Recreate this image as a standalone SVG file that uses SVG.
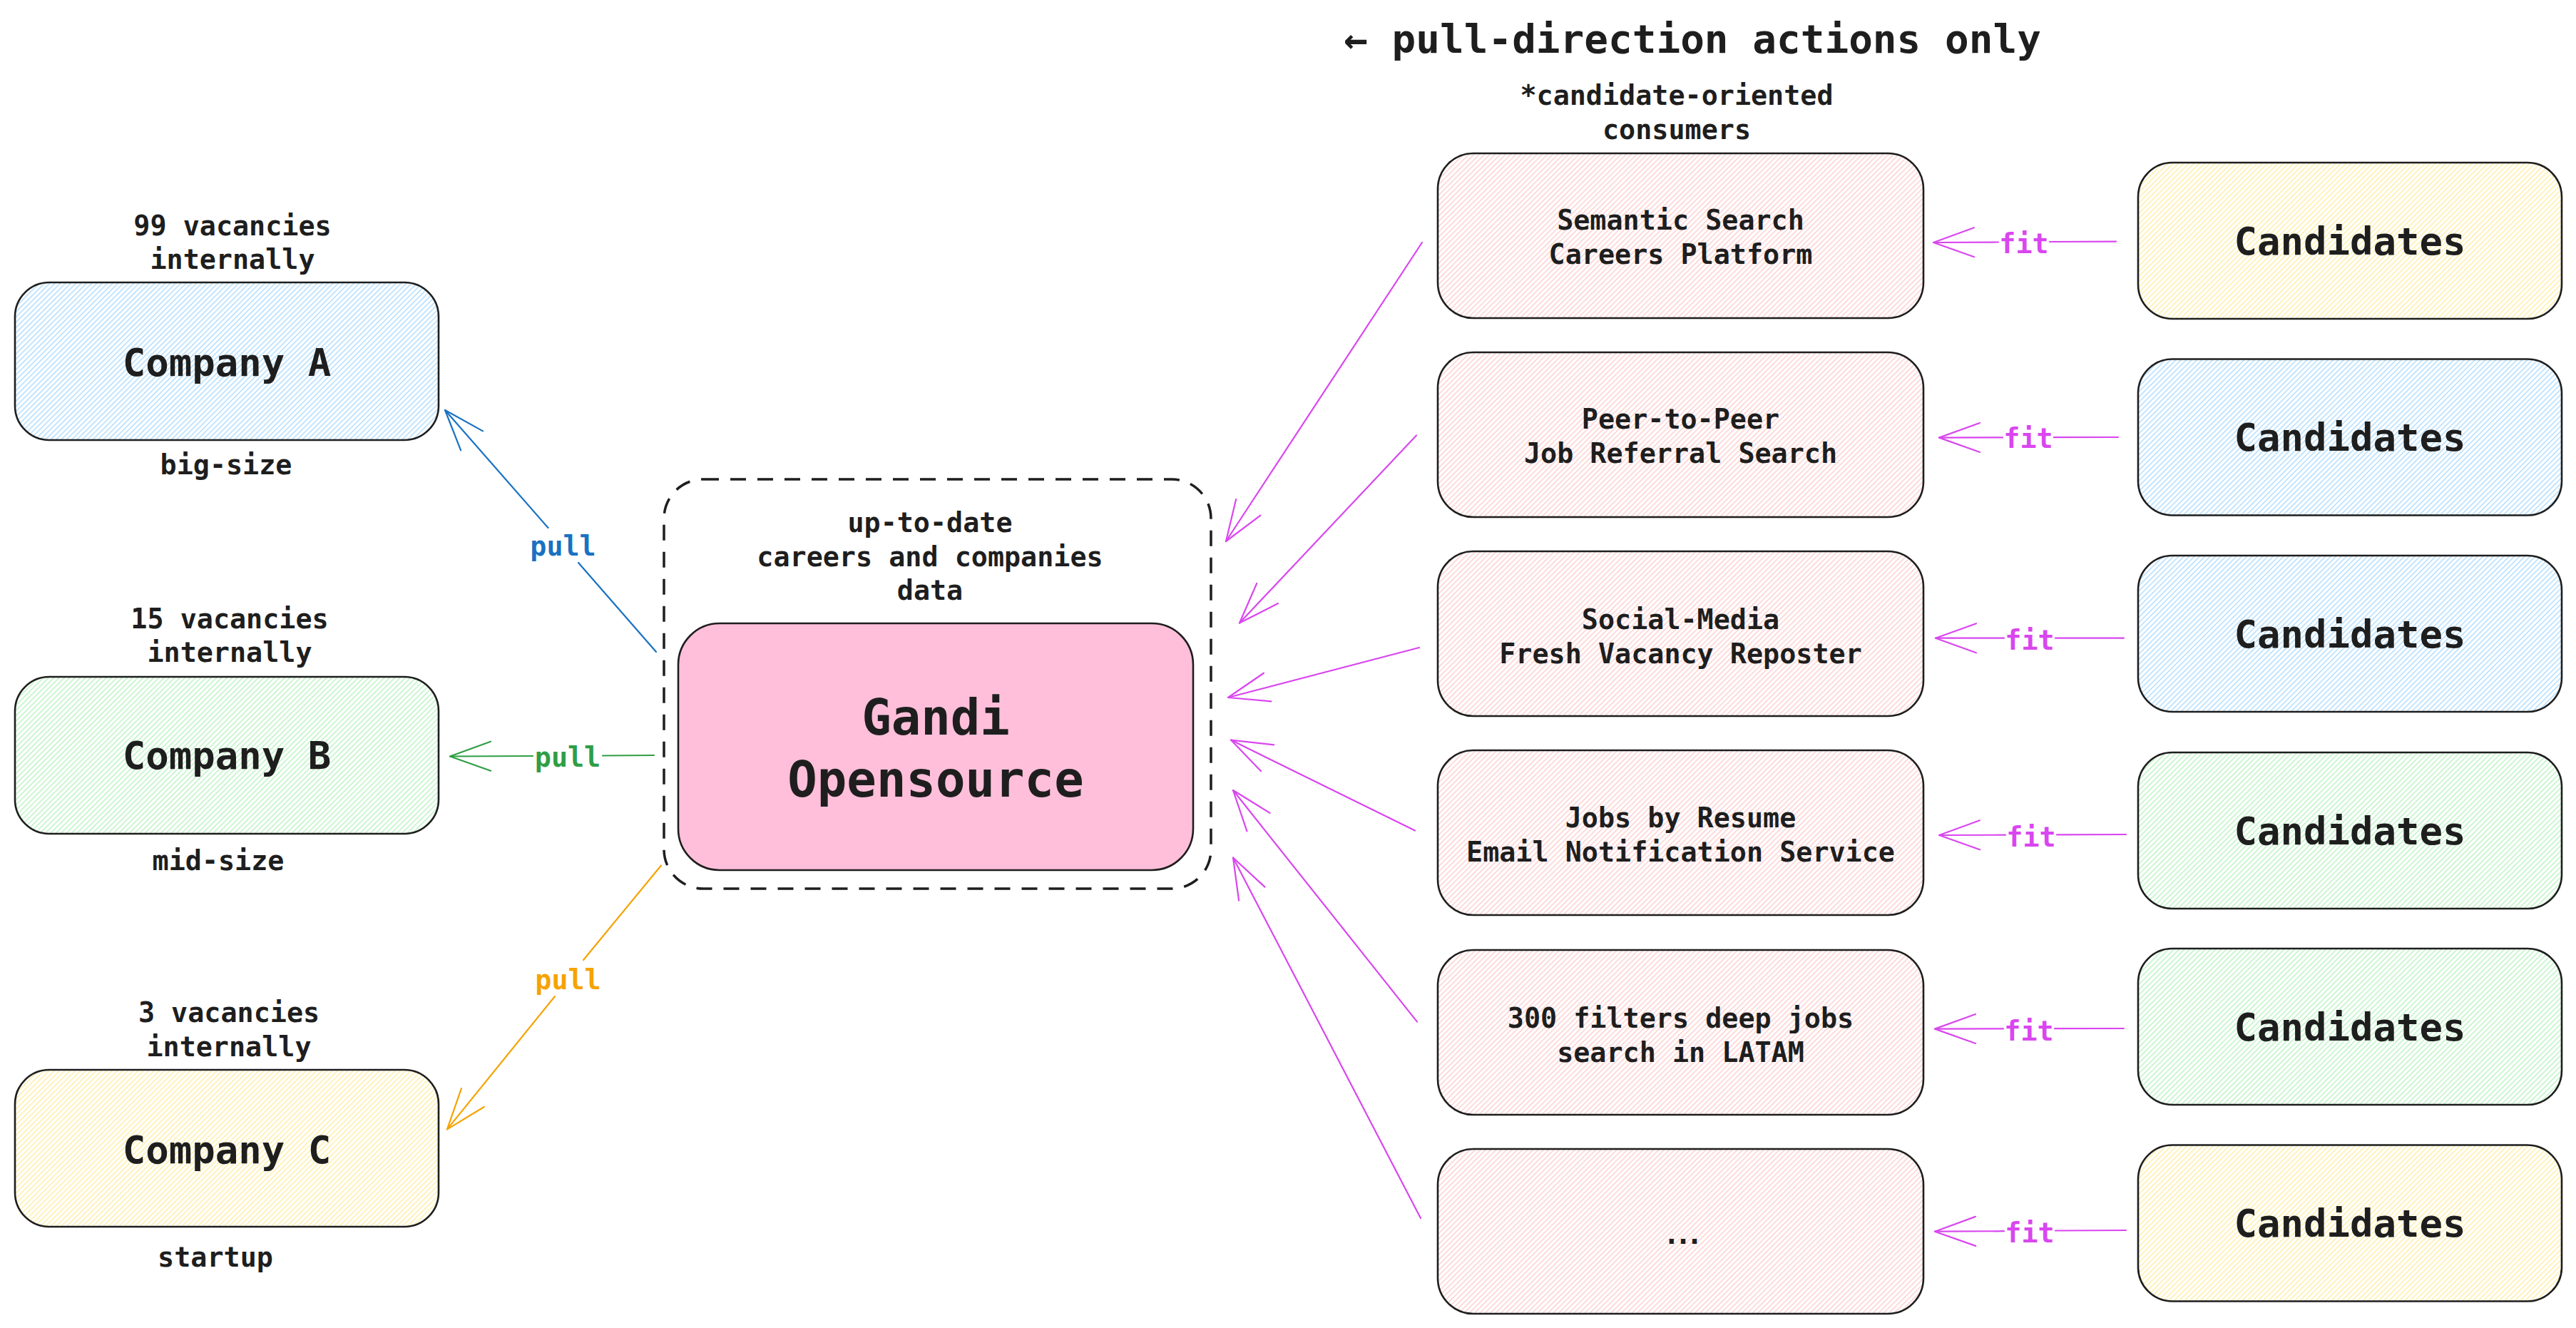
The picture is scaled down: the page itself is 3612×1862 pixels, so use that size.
<svg xmlns="http://www.w3.org/2000/svg" width="3612" height="1862" viewBox="0 0 3612 1862">
<style>
.t{font-family:"DejaVu Sans Mono","Liberation Mono",monospace;fill:#1e1e1e;text-anchor:middle;font-weight:bold}
.s{font-size:38.4px}
.m{font-size:54px}
.l{font-size:69px}
.box{stroke:#1e1e1e;stroke-width:2.6}
.c{fill:none;stroke-width:2.2;stroke-linecap:round}
.blue{stroke:#1971c2}
.green{stroke:#2f9e44}
.orange{stroke:#f5a300}
.mag{stroke:#d946ef}
.lb{font-family:"DejaVu Sans Mono","Liberation Mono",monospace;font-size:38.4px;text-anchor:middle;font-weight:bold}
</style>
<defs>
<pattern id="hBlue" patternUnits="userSpaceOnUse" width="10" height="5.2" patternTransform="rotate(-45)"><line x1="0" y1="2.6" x2="10" y2="2.6" stroke="#a5d8ff" stroke-width="1.3"/></pattern>
<pattern id="hGreen" patternUnits="userSpaceOnUse" width="10" height="5.2" patternTransform="rotate(-45)"><line x1="0" y1="2.6" x2="10" y2="2.6" stroke="#b2f2bb" stroke-width="1.3"/></pattern>
<pattern id="hYellow" patternUnits="userSpaceOnUse" width="10" height="5.2" patternTransform="rotate(-45)"><line x1="0" y1="2.6" x2="10" y2="2.6" stroke="#ffec99" stroke-width="1.3"/></pattern>
<pattern id="hPink" patternUnits="userSpaceOnUse" width="10" height="5.2" patternTransform="rotate(-45)"><line x1="0" y1="2.6" x2="10" y2="2.6" stroke="#ffc9c9" stroke-width="1.3"/></pattern>
<marker id="aBlue" markerUnits="userSpaceOnUse" viewBox="-70 -30 80 60" markerWidth="80" markerHeight="60" refX="0" refY="0" orient="auto" overflow="visible"><path d="M -57 -20.5 L 0 0 L -57 20.5" fill="none" stroke="#1971c2" stroke-width="2.2" stroke-linecap="round" stroke-linejoin="round"/></marker>
<marker id="aGreen" markerUnits="userSpaceOnUse" viewBox="-70 -30 80 60" markerWidth="80" markerHeight="60" refX="0" refY="0" orient="auto" overflow="visible"><path d="M -57 -20.5 L 0 0 L -57 20.5" fill="none" stroke="#2f9e44" stroke-width="2.2" stroke-linecap="round" stroke-linejoin="round"/></marker>
<marker id="aOrange" markerUnits="userSpaceOnUse" viewBox="-70 -30 80 60" markerWidth="80" markerHeight="60" refX="0" refY="0" orient="auto" overflow="visible"><path d="M -57 -20.5 L 0 0 L -57 20.5" fill="none" stroke="#f5a300" stroke-width="2.2" stroke-linecap="round" stroke-linejoin="round"/></marker>
<marker id="aMag" markerUnits="userSpaceOnUse" viewBox="-70 -30 80 60" markerWidth="80" markerHeight="60" refX="0" refY="0" orient="auto" overflow="visible"><path d="M -57 -20.5 L 0 0 L -57 20.5" fill="none" stroke="#d946ef" stroke-width="2.2" stroke-linecap="round" stroke-linejoin="round"/></marker>
</defs>
<rect width="3612" height="1862" fill="#ffffff"/>

<g id="title">
<text class="t" x="2373" y="74" style="font-size:56px">← pull-direction actions only</text>
</g>

<g id="company-a">
<text class="t s" x="326" y="330">99 vacancies</text>
<text class="t s" x="326" y="377">internally</text>
<rect class="box" x="21" y="396" width="594" height="221" rx="48" fill="url(#hBlue)"/>
<text class="t m" x="318" y="527">Company A</text>
<text class="t s" x="317" y="665">big-size</text>
</g>
<g id="company-b">
<text class="t s" x="322" y="881">15 vacancies</text>
<text class="t s" x="322" y="928">internally</text>
<rect class="box" x="21" y="949" width="594" height="220" rx="48" fill="url(#hGreen)"/>
<text class="t m" x="318" y="1078">Company B</text>
<text class="t s" x="306" y="1220">mid-size</text>
</g>
<g id="company-c">
<text class="t s" x="321" y="1433">3 vacancies</text>
<text class="t s" x="321" y="1481">internally</text>
<rect class="box" x="21" y="1500" width="594" height="220" rx="48" fill="url(#hYellow)"/>
<text class="t m" x="318" y="1631">Company C</text>
<text class="t s" x="302" y="1776">startup</text>
</g>

<g id="data-group">
<rect x="931" y="672" width="767" height="574" rx="55" fill="none" stroke="#1e1e1e" stroke-width="3.5" stroke-dasharray="22 16"/>
<text class="t s" x="1304" y="746">up-to-date</text>
<text class="t s" x="1304" y="794">careers and companies</text>
<text class="t s" x="1304" y="841">data</text>
</g>
<g id="gandi">
<rect class="box" x="951" y="874" width="722" height="346" rx="58" fill="#ffbfda"/>
<text class="t l" x="1312" y="1030">Gandi</text>
<text class="t l" x="1312" y="1117">Opensource</text>
</g>

<g id="consumers-label">
<text class="t s" x="2351" y="147">*candidate-oriented</text>
<text class="t s" x="2351" y="195">consumers</text>
</g>
<g id="consumer-1">
<rect class="box" x="2016" y="215" width="681" height="231" rx="50" fill="url(#hPink)"/>
<text class="t s" x="2356.5" y="322">Semantic Search</text>
<text class="t s" x="2356.5" y="370">Careers Platform</text>
</g>
<g id="consumer-2">
<rect class="box" x="2016" y="494" width="681" height="231" rx="50" fill="url(#hPink)"/>
<text class="t s" x="2356.5" y="601">Peer-to-Peer</text>
<text class="t s" x="2356.5" y="649">Job Referral Search</text>
</g>
<g id="consumer-3">
<rect class="box" x="2016" y="773" width="681" height="231" rx="50" fill="url(#hPink)"/>
<text class="t s" x="2356.5" y="882">Social-Media</text>
<text class="t s" x="2356.5" y="930">Fresh Vacancy Reposter</text>
</g>
<g id="consumer-4">
<rect class="box" x="2016" y="1052" width="681" height="231" rx="50" fill="url(#hPink)"/>
<text class="t s" x="2356.5" y="1160">Jobs by Resume</text>
<text class="t s" x="2356.5" y="1208">Email Notification Service</text>
</g>
<g id="consumer-5">
<rect class="box" x="2016" y="1332" width="681" height="231" rx="50" fill="url(#hPink)"/>
<text class="t s" x="2356.5" y="1441">300 filters deep jobs</text>
<text class="t s" x="2356.5" y="1489">search in LATAM</text>
</g>
<g id="consumer-6">
<rect class="box" x="2016" y="1611" width="681" height="231" rx="50" fill="url(#hPink)"/>
<text class="t s" x="2356.5" y="1744" letter-spacing="-7">...</text>
</g>

<g id="candidates-1">
<rect class="box" x="2998" y="228" width="594" height="219" rx="48" fill="url(#hYellow)"/>
<text class="t m" x="3295" y="357">Candidates</text>
</g>
<g id="candidates-2">
<rect class="box" x="2998" y="503.5" width="594" height="219" rx="48" fill="url(#hBlue)"/>
<text class="t m" x="3295" y="632">Candidates</text>
</g>
<g id="candidates-3">
<rect class="box" x="2998" y="779" width="594" height="219" rx="48" fill="url(#hBlue)"/>
<text class="t m" x="3295" y="907.5">Candidates</text>
</g>
<g id="candidates-4">
<rect class="box" x="2998" y="1055" width="594" height="219" rx="48" fill="url(#hGreen)"/>
<text class="t m" x="3295" y="1183.5">Candidates</text>
</g>
<g id="candidates-5">
<rect class="box" x="2998" y="1330" width="594" height="219" rx="48" fill="url(#hGreen)"/>
<text class="t m" x="3295" y="1458.5">Candidates</text>
</g>
<g id="candidates-6">
<rect class="box" x="2998" y="1605.5" width="594" height="219" rx="48" fill="url(#hYellow)"/>
<text class="t m" x="3295" y="1734">Candidates</text>
</g>

<g id="connectors">
<path class="c blue" d="M 920 914 L 811 789"/>
<path class="c blue" d="M 768.5 740 L 624 575" marker-end="url(#aBlue)"/>
<text class="lb" x="789.5" y="779" fill="#1971c2">pull</text>

<path class="c green" d="M 917 1059 L 845 1059.5"/>
<path class="c green" d="M 747 1060 L 631 1060.5" marker-end="url(#aGreen)"/>
<text class="lb" x="796" y="1074.5" fill="#2f9e44">pull</text>

<path class="c orange" d="M 927 1213.5 L 818 1346"/>
<path class="c orange" d="M 778 1397 L 627 1583.4" marker-end="url(#aOrange)"/>
<text class="lb" x="796.5" y="1387" fill="#f5a300">pull</text>

<path class="c mag" d="M 1994 340 L 1719 759" marker-end="url(#aMag)"/>
<path class="c mag" d="M 1986 610.5 L 1738 873.5" marker-end="url(#aMag)"/>
<path class="c mag" d="M 1990 908 L 1722 978" marker-end="url(#aMag)"/>
<path class="c mag" d="M 1984 1164.6 L 1726 1037.6" marker-end="url(#aMag)"/>
<path class="c mag" d="M 1987 1432.6 L 1729 1108" marker-end="url(#aMag)"/>
<path class="c mag" d="M 1992 1708 L 1729 1202.5" marker-end="url(#aMag)"/>

<path class="c mag" d="M 2967 338.6 L 2874 339"/>
<path class="c mag" d="M 2802 339.5 L 2711 340" marker-end="url(#aMag)"/>
<text class="lb" x="2838" y="355" fill="#d946ef">fit</text>

<path class="c mag" d="M 2970 613 L 2880 613.2"/>
<path class="c mag" d="M 2808 613.4 L 2719 613.6" marker-end="url(#aMag)"/>
<text class="lb" x="2844" y="628" fill="#d946ef">fit</text>

<path class="c mag" d="M 2978 894.7 L 2882 894.7"/>
<path class="c mag" d="M 2810 894.7 L 2714 894.7" marker-end="url(#aMag)"/>
<text class="lb" x="2846" y="911" fill="#d946ef">fit</text>

<path class="c mag" d="M 2981 1170 L 2884 1170.3"/>
<path class="c mag" d="M 2812 1170.7 L 2719 1171" marker-end="url(#aMag)"/>
<text class="lb" x="2848" y="1186.5" fill="#d946ef">fit</text>

<path class="c mag" d="M 2978 1442 L 2881 1442.2"/>
<path class="c mag" d="M 2809 1442.4 L 2713 1442.6" marker-end="url(#aMag)"/>
<text class="lb" x="2845" y="1459" fill="#d946ef">fit</text>

<path class="c mag" d="M 2981 1725 L 2882 1725.5"/>
<path class="c mag" d="M 2810 1726.2 L 2713 1726.7" marker-end="url(#aMag)"/>
<text class="lb" x="2846" y="1742" fill="#d946ef">fit</text>
</g>
</svg>
